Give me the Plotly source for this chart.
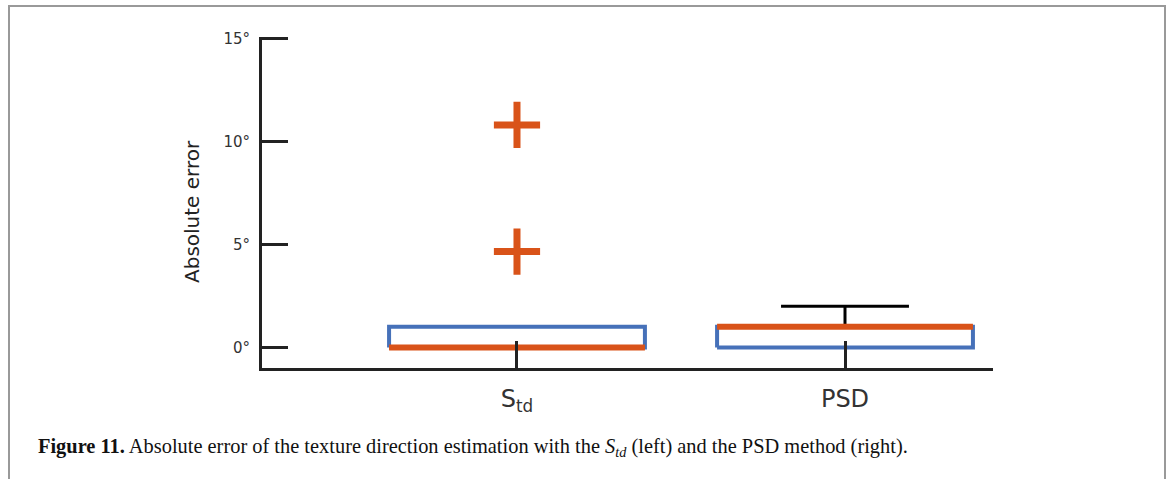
import plotly.graph_objects as go

# ---- data ----
categories = ["Std", "PSD"]
cat_pos = [1, 2]
q1 = [0, 0]
median = [0, 1]
q3 = [1, 1]
upper_whisker = [1, 2]
outliers_std = [10.8, 4.65]
y_tickvals = [0, 5, 10, 15]
y_ticktext = ["0°", "5°", "10°", "15°"]
x_ticktext = ["S<sub>td</sub>", "PSD"]

BLUE = "#4671B9"
ORANGE = "#D95319"
AXIS = "#222222"
half_w = 0.39
cap_w = 0.195

fig = go.Figure()

for i, x in enumerate(cat_pos):
    # whisker
    if upper_whisker[i] > q3[i]:
        fig.add_trace(go.Scatter(x=[x, x], y=[q3[i], upper_whisker[i]], mode="lines",
                                 line=dict(color="black", width=3), hoverinfo="skip"))
        fig.add_trace(go.Scatter(x=[x - cap_w, x + cap_w], y=[upper_whisker[i]] * 2, mode="lines",
                                 line=dict(color="black", width=3), hoverinfo="skip"))
    # box
    fig.add_trace(go.Scatter(x=[x - half_w, x + half_w, x + half_w, x - half_w, x - half_w],
                             y=[q1[i], q1[i], q3[i], q3[i], q1[i]], mode="lines",
                             line=dict(color=BLUE, width=4), hoverinfo="skip"))
    # median
    fig.add_trace(go.Scatter(x=[x - half_w, x + half_w], y=[median[i]] * 2, mode="lines",
                             line=dict(color=ORANGE, width=6), hoverinfo="skip"))

fig.add_trace(go.Scatter(x=[cat_pos[0]] * len(outliers_std), y=outliers_std, mode="markers",
                         marker=dict(symbol="cross-thin", size=33,
                                     line=dict(color=ORANGE, width=7)),
                         hoverinfo="skip"))

YMIN, YMAX = -1, 15.07
PXU = 20.625
L, R, B = 262, 1171 - 993, 479 - 368
T = round(368 - (YMAX - YMIN) * PXU)
PW, PH = 1171 - L - R, 479 - T - B

fig.update_layout(
    width=1171, height=479,
    margin=dict(l=L, r=R, t=T, b=B, pad=0),
    paper_bgcolor="white", plot_bgcolor="white",
    showlegend=False,
    xaxis=dict(range=[0.2226, 2.4512], tickvals=cat_pos, ticktext=x_ticktext,
               showgrid=False, zeroline=False, showline=True, linecolor=AXIS, linewidth=3,
               ticks="inside", ticklen=27, tickwidth=3, tickcolor=AXIS,
               tickfont=dict(family="DejaVu Sans", size=24, color="#333333"),
               ticklabelstandoff=7),
    yaxis=dict(range=[YMIN, YMAX], tickvals=y_tickvals, ticktext=y_ticktext,
               showgrid=False, zeroline=False, showline=True, linecolor=AXIS, linewidth=3,
               ticks="inside", ticklen=26, tickwidth=3, tickcolor=AXIS,
               tickfont=dict(family="DejaVu Sans", size=15, color="#333333"),
               ticklabelstandoff=6),
)

def px_x(px):
    return (px - L) / PW

def px_y(py):
    return (479 - B - py) / PH

# axis title
fig.add_annotation(text="Absolute error", textangle=-90, xref="paper", yref="paper",
                   x=px_x(192), y=px_y(212), xanchor="center", yanchor="middle",
                   showarrow=False, font=dict(family="DejaVu Sans", size=20, color="#222222"))

# caption
fig.add_annotation(
    text="<b>Figure 11.</b> Absolute error of the texture direction estimation with the "
         "<i>S<sub>td</sub></i> (left) and the PSD method (right).",
    xref="paper", yref="paper", x=px_x(36), y=px_y(447), xanchor="left", yanchor="middle",
    showarrow=False, font=dict(family="Liberation Serif", size=20.4, color="#111111"))

# frame
fig.add_shape(type="rect", xref="paper", yref="paper",
              x0=px_x(9), x1=px_x(1165), y0=px_y(500), y1=px_y(6),
              line=dict(color="#999999", width=2), layer="below")

fig.write_html("out.html")
